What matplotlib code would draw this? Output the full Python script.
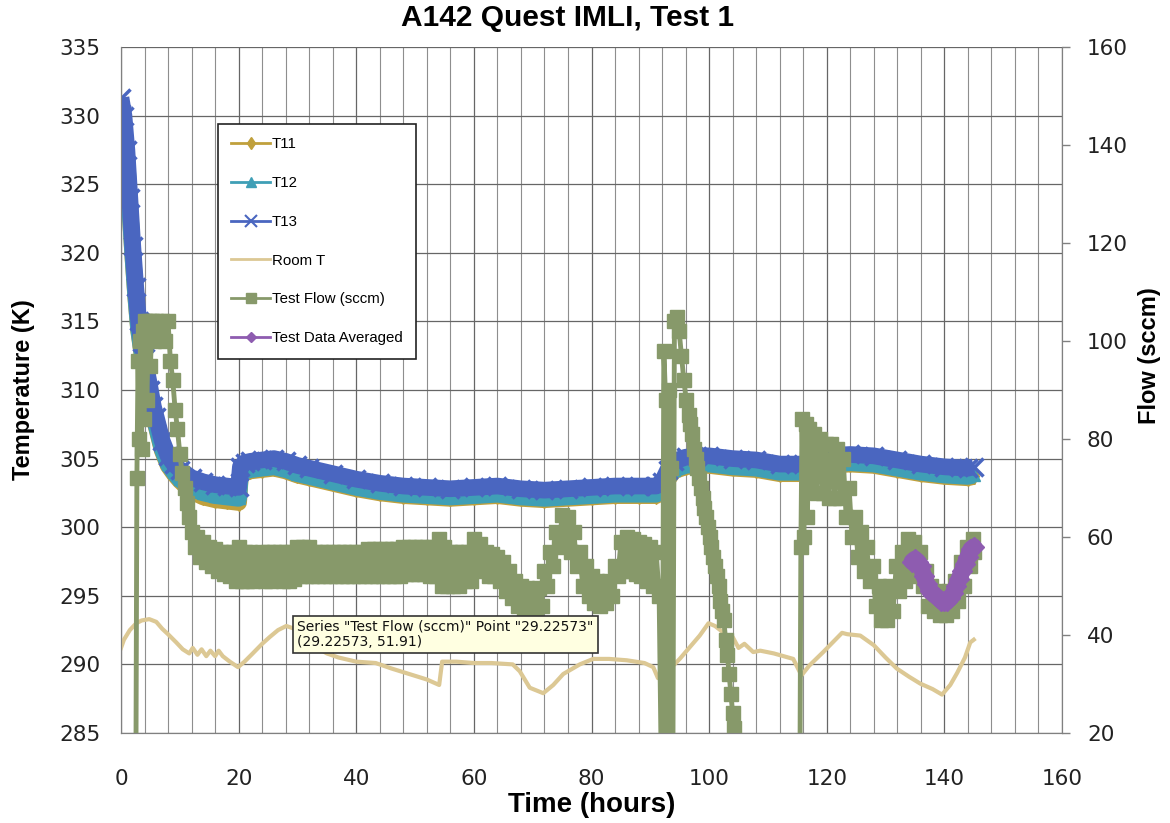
import matplotlib
matplotlib.use("Agg")
import matplotlib.pyplot as plt
from matplotlib.lines import Line2D
from matplotlib.ticker import MultipleLocator

# ---- data ----
t_hr = [0, 0.5, 1, 1.5, 2, 2.5, 3, 3.5, 4, 5, 5.5, 6, 7, 8, 9, 10, 12, 14, 16, 18, 20,
        20.3, 21, 22, 24, 26, 28, 30, 32, 36, 40, 44, 48, 52, 56, 60, 64, 68, 72, 76,
        80, 84, 88, 91, 92, 93, 94, 96, 98, 100, 104, 108, 112, 116, 120, 124, 128,
        132, 136, 140, 144, 145]
t13 = [331.3, 330.0, 327.5, 324.0, 320.5, 317.5, 315.0, 313.5, 312.3, 310.0, 308.8, 308.0,
       306.3, 305.2, 304.6, 304.2, 303.6, 303.3, 303.1, 303.0, 302.9,
       304.4, 304.7, 304.8, 304.9, 305.0, 304.8, 304.5, 304.3, 303.9, 303.5, 303.2, 303.0,
       302.9, 302.8, 302.9, 303.0, 302.8, 302.7, 302.8, 302.9, 303.0, 303.0, 303.0, 303.3,
       304.2, 304.8, 305.1, 305.2, 305.2, 305.0, 304.9, 304.6, 304.6, 305.2, 305.3, 305.2,
       304.9, 304.6, 304.4, 304.3, 304.4]
t12 = [330.2, 329.2, 326.8, 323.3, 319.9, 316.9, 314.4, 312.9, 311.7, 309.4, 308.2, 307.4,
       305.7, 304.6, 304.0, 303.5, 302.8, 302.5, 302.3, 302.2, 302.1,
       303.8, 304.1, 304.2, 304.3, 304.4, 304.2, 303.9, 303.7, 303.3, 302.9, 302.6, 302.4,
       302.3, 302.2, 302.3, 302.4, 302.2, 302.1, 302.2, 302.3, 302.4, 302.4, 302.4, 302.7,
       303.6, 304.2, 304.5, 304.6, 304.6, 304.4, 304.3, 304.0, 304.0, 304.6, 304.7, 304.6,
       304.3, 304.0, 303.8, 303.7, 303.8]
t11 = [330.1, 329.1, 326.7, 323.2, 319.8, 316.8, 314.3, 312.8, 311.6, 309.3, 308.1, 307.3,
       305.6, 304.5, 303.9, 303.4, 302.6, 302.2, 302.0, 301.9, 301.8,
       303.7, 304.0, 304.1, 304.2, 304.3, 304.1, 303.8, 303.6, 303.2, 302.8, 302.5, 302.3,
       302.2, 302.1, 302.2, 302.3, 302.1, 302.0, 302.1, 302.2, 302.3, 302.3, 302.3, 302.6,
       303.5, 304.1, 304.4, 304.5, 304.5, 304.3, 304.2, 303.9, 303.9, 304.5, 304.6, 304.5,
       304.2, 303.9, 303.7, 303.6, 303.7]

room_hr = [0, 0.5, 1.5, 2.6, 3.5, 4.8, 6, 7, 8, 9.4, 10.5, 11.6, 12.2, 13, 13.7, 14.5, 15.2,
           16, 16.6, 17.3, 18.5, 19.9, 21, 22.4, 24, 25.3, 26.7, 28.1, 29.5, 31, 33, 35, 37,
           40, 43.3, 46, 49, 52, 54.1, 54.6, 57, 60, 63, 66.6, 67.8, 69.5, 71.8, 73.5, 75.2,
           78, 80.3, 83, 86, 89, 90.5, 91.3, 92.5, 95, 97, 98.4, 99.9, 101, 102.5, 103.2, 104,
           105, 106, 107.5, 108.7, 111, 114.3, 115.7, 117, 119.4, 121, 122.6, 123.5, 125.7,
           128, 130, 131.9, 134, 135.9, 138, 139.6, 141, 142.2, 143.5, 144.4, 145]
room_t = [291.2, 291.8, 292.5, 293.0, 293.2, 293.3, 293.1, 292.6, 292.2, 291.6, 291.1, 290.8,
          291.2, 290.7, 291.1, 290.6, 291.0, 290.6, 291.0, 290.6, 290.2, 289.8, 290.2, 290.8,
          291.5, 292.0, 292.5, 292.8, 292.6, 292.0, 291.3, 290.8, 290.5, 290.2, 290.1, 289.7,
          289.3, 288.9, 288.5, 290.2, 290.2, 290.1, 290.1, 290.0, 289.5, 288.3, 287.9, 288.5,
          289.3, 290.0, 290.4, 290.4, 290.3, 290.1, 289.8, 289.0, 289.3, 290.4, 291.4, 292.1,
          293.0, 292.8, 292.3, 291.5, 292.0, 291.2, 291.5, 290.9, 291.0, 290.8, 290.4, 289.2,
          289.9, 290.9, 291.6, 292.3, 292.2, 292.1, 291.4, 290.5, 289.7, 289.1, 288.6, 288.2,
          287.8, 288.5, 289.4, 290.5, 291.6, 291.8]

flow_hr = [2.5, 2.7, 2.9, 3.1, 3.3, 3.5, 3.7, 3.9, 4.1, 4.4, 4.7, 5.0, 5.3, 5.6, 6.0, 6.5,
           7.0, 7.5, 8.0, 8.4, 8.8, 9.2, 9.6, 10.0, 10.4, 10.8, 11.2, 11.6, 12.0, 12.5, 13.0,
           13.5, 14.0, 14.5, 15.0, 15.5, 16.0, 16.5, 17.0, 17.5, 18.0, 18.5, 19.0, 19.5, 20.0,
           20.5, 21.0, 21.5, 22, 22.5, 23, 23.5, 24, 24.5, 25, 25.5, 26, 26.5, 27, 27.5, 28,
           28.5, 29, 29.5, 30, 30.5, 31, 31.5, 32, 32.5, 33, 33.5, 34, 34.5, 35, 35.5, 36,
           36.5, 37, 37.5, 38, 38.5, 39, 39.5, 40, 40.5, 41, 41.5, 42, 42.5, 43, 43.5, 44,
           44.5, 45, 45.5, 46, 46.5, 47, 47.5, 48, 48.5, 49, 49.5, 50, 50.5, 51, 51.5, 52,
           52.5, 53, 53.5, 54, 54.5, 55, 55.5, 56, 56.5, 57, 57.5, 58, 58.5, 59, 59.5, 60,
           60.5, 61, 61.5, 62, 62.5, 63, 63.5, 64, 64.5, 65, 65.5, 66, 66.5, 67, 67.5, 68,
           68.5, 69, 69.5, 70, 70.5, 71, 71.5, 72, 72.5, 73, 73.5, 74, 74.5, 75, 75.5, 76,
           76.5, 77, 77.5, 78, 78.5, 79, 79.5, 80, 80.5, 81, 81.5, 82, 82.5, 83, 83.5, 84,
           84.5, 85, 85.5, 86, 86.5, 87, 87.5, 88, 88.5, 89, 89.5, 90, 90.5, 91, 91.5,
           92.0, 92.3, 92.6, 92.9, 93.2, 93.5, 93.8, 94.1, 94.5, 94.9, 95.3, 95.7, 96.1, 96.5,
           96.8, 97.1, 97.4, 97.7, 98.0, 98.3, 98.6, 98.9, 99.2, 99.5, 99.8, 100.1, 100.4,
           100.7, 101.0, 101.3, 101.6, 101.9, 102.2, 102.5, 102.8, 103.1, 103.4, 103.7, 104.0,
           104.2, 104.5, 115.4, 115.6, 115.8, 116.1, 116.4, 116.7, 117.0, 117.4, 117.8, 118.3,
           118.8, 119.3, 119.8, 120.3, 120.8, 121.3, 121.8, 122.3, 122.8, 123.3, 123.8, 124.3,
           124.8, 125.3, 125.8, 126.3, 126.8, 127.3, 127.8, 128.3, 128.8, 129.3, 129.8, 130.3,
           130.8, 131.3, 131.8, 132.3, 132.8, 133.3, 133.8, 134.3, 134.8, 135.3, 135.8, 136.3,
           136.8, 137.3, 137.8, 138.3, 138.8, 139.3, 139.8, 140.3, 140.8, 141.3, 141.8, 142.3,
           142.8, 143.3, 143.8, 144.3, 144.8, 145.0]
flow = [0, 72, 96, 80, 100, 78, 102, 84, 104, 88, 104, 95, 104, 100, 104, 102,
        104, 100, 104, 96, 92, 86, 82, 77, 73, 70, 67, 64, 61, 58, 60,
        56, 59, 55, 58, 54, 57.5, 53, 57, 52.5, 57, 52, 57, 51, 58,
        51, 57, 51, 57, 51, 56.5, 51.5, 57, 51, 57, 51, 57, 51.5, 57, 51, 57,
        51, 57, 51.5, 58, 52, 58, 52, 58, 52, 57, 52, 57, 52, 57, 52, 57,
        52, 57, 52, 57, 52, 57, 52, 57, 52, 57, 52, 57.5, 52, 57.5, 52, 57.5,
        52, 57.5, 52, 57.5, 52, 57.5, 52, 58, 52.5, 58, 52.5, 58, 52.5, 58, 52.5, 58,
        52, 58, 52, 59.5, 50, 58, 50, 57, 50, 57, 50, 57, 51, 57, 51, 59.5,
        53, 58.5, 54, 57, 52, 56.5, 52, 56, 51, 55, 49, 53, 47.5, 51, 46, 50,
        45, 49.5, 44, 49, 44, 49.5, 46, 53, 50, 57, 54, 61, 58, 64.5, 59, 64,
        57, 61, 54, 57, 50, 54, 48, 52, 46.5, 51, 46, 50.5, 46.5, 51, 48, 54,
        52, 59, 53, 60, 53, 59.5, 52.5, 59, 52, 58.5, 51, 58, 50, 57, 48,
        0, 98, 88, 0, 90, 74, 0, 104, 105, 102, 97, 92, 88, 85,
        83, 81, 78, 76, 74, 72, 70, 68, 66, 64, 62, 60, 58,
        56, 54, 52, 50, 47, 45, 43, 39, 36, 32, 28, 24,
        21, 0, 0, 58, 84, 60, 83, 64, 82, 70, 81, 69,
        80, 69, 79, 68, 79, 68, 78, 68, 76, 64, 70, 60,
        64, 56, 61, 53, 58, 51, 54, 46, 50, 43, 48, 43,
        50, 45, 54, 49, 57, 51, 59.5, 53, 59, 52, 57, 50,
        53, 46, 50, 45, 49, 44, 48, 44, 49, 45, 51, 47,
        55, 50, 58, 54, 59.5, 57]

avg_hr = [134.5, 135, 135.5, 136, 136.5, 137, 137.5, 138, 138.5, 139, 139.5, 140, 140.5,
          141, 141.5, 142, 142.5, 143, 143.5, 144, 144.5, 145]
avg_flow = [55, 55.5, 55, 54, 52, 50.5, 49, 48.5, 48, 47.5, 47, 47, 47, 47.5, 48.5, 50,
            51.5, 53, 54.5, 56, 57.5, 58]

c_t11 = "#c0a03c"
c_t12 = "#3f9fb6"
c_t13 = "#4a66c0"
c_room = "#dcc894"
c_flow = "#87996a"
c_avg = "#8e5cb0"

label_font = ["Liberation Sans", "DejaVu Sans"]

fig = plt.figure(figsize=(11.7, 8.23), dpi=100)
ax = fig.add_axes([121 / 1170, 1 - 733 / 823, 941 / 1170, 686 / 823])
ax2 = ax.twinx()

# grid
ax.set_xlim(0, 160)
ax.set_ylim(285, 335)
ax.xaxis.set_major_locator(MultipleLocator(20))
ax.xaxis.set_minor_locator(MultipleLocator(4))
ax.yaxis.set_major_locator(MultipleLocator(5))
ax.grid(which="major", axis="both", color="#666666", linewidth=0.9)
ax.grid(which="minor", axis="x", color="#8e8e8e", linewidth=0.8)
ax.set_axisbelow(True)

# temperatures
ax.plot(t_hr, t11, color=c_t11, lw=12, marker="d", ms=8,
        solid_capstyle="butt", zorder=2)
ax.plot(t_hr, t12, color=c_t12, lw=12, marker="^", ms=9,
        solid_capstyle="butt", zorder=3)
ax.plot(t_hr, t13, color=c_t13, lw=12, marker="x", ms=13, mew=2.5,
        solid_capstyle="butt", zorder=4)
ax.plot(room_hr, room_t, color=c_room, lw=3, zorder=5)

# flows
ax2.set_ylim(20, 160)
ax2.yaxis.set_major_locator(MultipleLocator(20))
ax2.plot(flow_hr, flow, color=c_flow, lw=3.5, marker="s", ms=10.5, mec=c_flow)
ax2.plot(avg_hr, avg_flow, color=c_avg, lw=12, marker="D", ms=10, mec=c_avg,
         solid_capstyle="round")

# axes styling
for a in (ax, ax2):
    for s in a.spines.values():
        s.set_color("#808080")
    a.spines["top"].set_visible(False)
ax.tick_params(axis="x", which="both", length=0, pad=26, labelsize=15.5, colors="#222222")
ax.tick_params(axis="y", which="both", length=0, pad=15, labelsize=15.5, colors="#222222")
ax2.tick_params(axis="y", length=6, width=1, color="#808080", pad=12,
                labelsize=15.5, labelcolor="#222222")

ax.set_xlabel("Time (hours)", family=label_font, fontweight="bold", fontsize=20, labelpad=2)
ax.set_ylabel("Temperature (K)", family=label_font, fontweight="bold", fontsize=17)
ax.yaxis.set_label_coords(-0.091, 0.5)
ax2.set_ylabel("Flow (sccm)", family=label_font, fontweight="bold", fontsize=17,
               rotation=90)
ax2.yaxis.set_label_coords(1.081, 0.55)

fig.text(568 / 1170, 1 - 18 / 823, "A142 Quest IMLI, Test 1", family=label_font,
         fontweight="bold", fontsize=21.5, ha="center", va="center")

# legend
handles = [
    Line2D([], [], color=c_t11, lw=2, marker="d", ms=6),
    Line2D([], [], color=c_t12, lw=2, marker="^", ms=7),
    Line2D([], [], color=c_t13, lw=2, marker="x", ms=8, mew=1.5),
    Line2D([], [], color=c_room, lw=2),
    Line2D([], [], color=c_flow, lw=2, marker="s", ms=7),
    Line2D([], [], color=c_avg, lw=2, marker="D", ms=5),
]
names = ["T11", "T12", "T13", "Room T", "Test Flow (sccm)", "Test Data Averaged"]
leg = ax2.legend(handles, names, loc="upper left", bbox_to_anchor=(0.103, 0.888),
                 borderaxespad=0, prop={"family": label_font, "size": 10.8},
                 labelspacing=1.65, handlelength=2.6, handletextpad=0.1, borderpad=0.9,
                 fancybox=False, framealpha=1, edgecolor="#222222")
leg.get_frame().set_linewidth(1.2)
leg.set_zorder(20)

# data tip
fig.text(297 / 1170, 1 - 620 / 823,
         'Series "Test Flow (sccm)" Point "29.22573"\n(29.22573, 51.91)',
         fontsize=10, ha="left", va="top", color="#111111", linespacing=1.1,
         bbox=dict(boxstyle="square,pad=0.3", fc="#ffffe1", ec="#333333", lw=1.2),
         zorder=30)

fig.savefig("out.png", dpi=100)
